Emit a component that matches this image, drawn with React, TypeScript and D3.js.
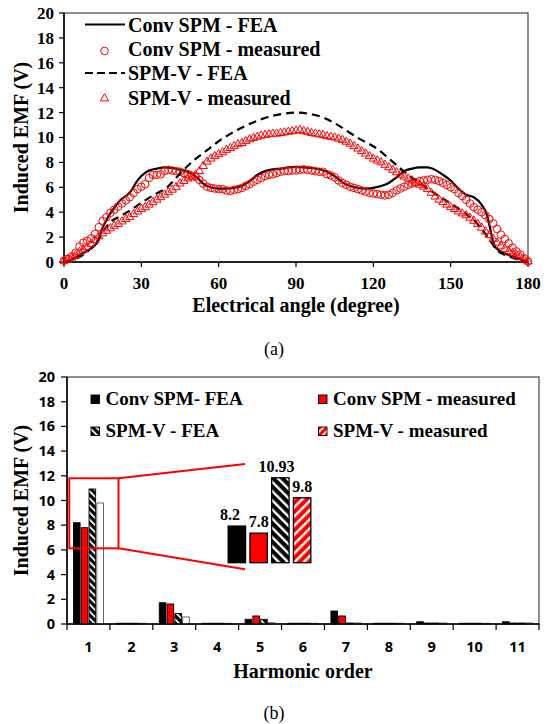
import { useRef, useEffect } from 'react';
import * as d3 from 'd3';

// ---------- (a) back EMF waveforms ----------
const angleTicks = [0, 30, 60, 90, 120, 150, 180];
const emfTicks = [0, 2, 4, 6, 8, 10, 12, 14, 16, 18, 20];

// Conv SPM - FEA (solid line)
const convFeaAngle = [0, 3, 6, 9, 12, 13.5, 14.5, 16, 18, 20, 22, 24, 26, 28, 30, 33, 36, 39, 42, 45, 48, 51, 54, 57, 60, 63, 66, 69, 72, 75, 78, 81, 84, 87, 90, 93, 96, 99, 102, 105, 108, 111, 114, 117, 120, 123, 126, 129, 132, 135, 138, 141, 144, 147, 150, 153, 156, 159, 162, 164, 165, 166, 167, 169, 172, 175, 178, 180];
const convFeaEmf = [0, 0.2, 0.55, 0.9, 1.35, 1.8, 2.5, 3.2, 3.9, 4.5, 5.0, 5.3, 5.7, 6.4, 6.9, 7.35, 7.5, 7.6, 7.55, 7.4, 7.25, 6.9, 6.3, 6.0, 5.9, 5.9, 5.95, 6.1, 6.5, 7.0, 7.3, 7.45, 7.5, 7.6, 7.65, 7.6, 7.55, 7.45, 7.25, 6.9, 6.4, 6.1, 5.95, 5.9, 5.95, 6.1, 6.35, 6.8, 7.3, 7.5, 7.6, 7.6, 7.4, 7.0, 6.55, 5.9, 5.4, 5.2, 4.6, 3.8, 3.0, 2.0, 1.3, 0.9, 0.6, 0.4, 0.15, 0];

// SPM-V - FEA (dashed line)
const spmvFeaAngle = [0, 5, 10, 13, 15, 18, 22, 26, 30, 35, 40, 45, 50, 55, 60, 65, 70, 75, 80, 85, 90, 95, 100, 105, 110, 115, 120, 125, 130, 135, 140, 145, 150, 155, 160, 163, 166, 168, 172, 176, 180];
const spmvFeaEmf = [0, 0.3, 1.0, 1.7, 2.4, 3.2, 3.7, 4.2, 4.75, 5.4, 6.0, 7.1, 8.1, 8.9, 9.7, 10.35, 10.9, 11.35, 11.7, 11.9, 12.0, 11.9, 11.65, 11.15, 10.5, 9.85, 9.3, 8.5, 7.6, 6.75, 6.05, 5.35, 4.7, 4.0, 3.15, 2.4, 1.5, 0.95, 0.5, 0.2, 0];

// measured points (both machines share the angle grid)
const measAngle = [0, 1.5, 3, 4.5, 6, 7.5, 9, 10.5, 12, 13.5, 15, 16.5, 18, 19.5, 21, 22.5, 24, 25.5, 27, 28.5, 30, 31.5, 33, 34.5, 36, 37.5, 39, 40.5, 42, 43.5, 45, 46.5, 48, 49.5, 51, 52.5, 54, 55.5, 57, 58.5, 60, 61.5, 63, 64.5, 66, 67.5, 69, 70.5, 72, 73.5, 75, 76.5, 78, 79.5, 81, 82.5, 84, 85.5, 87, 88.5, 90, 91.5, 93, 94.5, 96, 97.5, 99, 100.5, 102, 103.5, 105, 106.5, 108, 109.5, 111, 112.5, 114, 115.5, 117, 118.5, 120, 121.5, 123, 124.5, 126, 127.5, 129, 130.5, 132, 133.5, 135, 136.5, 138, 139.5, 141, 142.5, 144, 145.5, 147, 148.5, 150, 151.5, 153, 154.5, 156, 157.5, 159, 160.5, 162, 163.5, 165, 166.5, 168, 169.5, 171, 172.5, 174, 175.5, 177, 178.5, 180];
const convMeasEmf = [
  0.10, 0.25, 0.45, 0.75, 1.25, 1.55, 1.70, 1.90, 2.25, 2.80,
  3.30, 3.60, 3.95, 4.20, 4.45, 4.70, 4.95, 5.20, 5.55, 5.85,
  6.05, 6.25, 6.75, 7.00, 7.00, 7.05, 7.30, 7.40, 7.35, 7.30,
  7.25, 7.15, 7.05, 6.95, 6.85, 6.60, 6.30, 6.05, 5.95, 5.90,
  5.85, 5.85, 5.75, 5.70, 5.80, 5.85, 5.95, 6.10, 6.25, 6.45,
  6.60, 6.75, 6.90, 7.00, 7.05, 7.15, 7.25, 7.30, 7.30, 7.35,
  7.35, 7.40, 7.45, 7.40, 7.35, 7.30, 7.25, 7.25, 7.05, 6.95,
  6.80, 6.55, 6.35, 6.20, 6.05, 5.95, 5.85, 5.75, 5.65, 5.55,
  5.50, 5.45, 5.40, 5.35, 5.40, 5.55, 5.75, 5.90, 6.05, 6.20,
  6.30, 6.40, 6.50, 6.55, 6.60, 6.65, 6.60, 6.50, 6.35, 6.20,
  6.00, 5.85, 5.55, 5.30, 5.00, 4.70, 4.40, 4.20, 4.00, 3.75,
  3.45, 3.10, 2.65, 2.20, 1.85, 1.50, 1.15, 0.85, 0.60, 0.30,
  0.05,
];
const spmvMeasEmf = [
  0.10, 0.20, 0.35, 0.55, 0.80, 1.00, 1.20, 1.45, 1.75, 2.05,
  2.30, 2.50, 2.70, 2.90, 3.05, 3.25, 3.45, 3.60, 3.85, 4.05,
  4.25, 4.40, 4.60, 4.80, 5.00, 5.20, 5.40, 5.60, 5.80, 6.00,
  6.30, 6.50, 6.70, 6.80, 7.00, 7.30, 7.70, 8.05, 8.30, 8.50,
  8.65, 8.80, 9.00, 9.15, 9.30, 9.45, 9.55, 9.70, 9.85, 9.95,
  10.05, 10.15, 10.20, 10.25, 10.30, 10.30, 10.35, 10.40, 10.45, 10.50,
  10.55, 10.60, 10.50, 10.45, 10.35, 10.30, 10.25, 10.20, 10.10, 10.05,
  10.00, 9.90, 9.80, 9.65, 9.50, 9.30, 9.10, 8.90, 8.70, 8.50,
  8.30, 8.15, 8.00, 7.80, 7.60, 7.40, 7.20, 7.00, 6.85, 6.70,
  6.55, 6.35, 6.20, 6.05, 5.85, 5.55, 5.25, 5.00, 4.80, 4.60,
  4.40, 4.25, 4.05, 3.90, 3.75, 3.55, 3.30, 3.05, 2.75, 2.45,
  2.15, 1.85, 1.55, 1.30, 1.05, 0.85, 0.70, 0.55, 0.40, 0.20,
  0.05,
];
const waveLegend = ['Conv SPM - FEA', 'Conv SPM - measured', 'SPM-V - FEA', 'SPM-V - measured'];

// ---------- (b) harmonic spectrum ----------
const harmonics = ['1', '2', '3', '4', '5', '6', '7', '8', '9', '10', '11'];
const barLegend = ['Conv SPM- FEA', 'Conv SPM - measured', 'SPM-V - FEA', 'SPM-V - measured'];
const hConvFea = [8.2, 0.06, 1.72, 0.06, 0.38, 0.06, 1.05, 0.06, 0.18, 0.06, 0.18];
const hConvMeas = [7.8, 0.06, 1.62, 0.06, 0.65, 0.06, 0.65, 0.06, 0.08, 0.06, 0.08];
const hSpmvFea = [10.93, 0.06, 0.85, 0.06, 0.38, 0.06, 0.08, 0.06, 0.08, 0.06, 0.08];
const hSpmvMeas = [9.8, 0.06, 0.57, 0.06, 0.1, 0.06, 0.08, 0.06, 0.08, 0.06, 0.08];
const fundamental = [8.2, 7.8, 10.93, 9.8];
const zoomRange = [6.13, 11.8];

const W = 549;
const H = 724;

const App = () => {
  const svgRef = useRef<SVGSVGElement>(null);

  useEffect(() => {
    if (!svgRef.current) return;
    const svg = d3.select(svgRef.current);
    svg.selectAll('*').remove();

    const serif = '"Liberation Serif", "Times New Roman", serif';
    const sans = '"Open Sans", Arial, sans-serif';

    svg.append('rect').attr('width', W).attr('height', H).attr('fill', '#fff');

    const defs = svg.append('defs');
    const hatch = (id: string, bg: string, size: number, stripe: number, angle: number) => {
      const p = defs.append('pattern')
        .attr('id', id)
        .attr('patternUnits', 'userSpaceOnUse')
        .attr('width', size)
        .attr('height', size)
        .attr('patternTransform', `rotate(${angle})`);
      p.append('rect').attr('width', size).attr('height', size).attr('fill', bg);
      p.append('rect').attr('width', stripe).attr('height', size).attr('fill', '#fff');
    };
    hatch('hatchBlack', '#000', 5, 1.8, -45);
    hatch('hatchRed', '#f00', 5, 1.8, 45);
    hatch('hatchBlackBig', '#000', 6.5, 2.4, -45);
    hatch('hatchRedBig', '#f00', 6.5, 2.4, 45);

    // ======================= (a) =======================
    const a = { left: 64, right: 528, top: 13, bottom: 262 };
    const xA = d3.scaleLinear().domain([0, 180]).range([a.left, a.right]);
    const yA = d3.scaleLinear().domain([0, 20]).range([a.bottom, a.top]);
    const gA = svg.append('g');

    gA.append('rect')
      .attr('x', a.left).attr('y', a.top)
      .attr('width', a.right - a.left).attr('height', a.bottom - a.top)
      .attr('fill', 'none').attr('stroke', '#444').attr('stroke-width', 1.2);
    gA.append('line').attr('x1', a.left).attr('x2', a.left).attr('y1', a.top).attr('y2', a.bottom)
      .attr('stroke', '#000').attr('stroke-width', 1.5);
    gA.append('line').attr('x1', a.left).attr('x2', a.right).attr('y1', a.bottom).attr('y2', a.bottom)
      .attr('stroke', '#000').attr('stroke-width', 1.5);

    gA.selectAll('.ytick').data(emfTicks).join('line')
      .attr('x1', a.left - 5).attr('x2', a.left)
      .attr('y1', d => yA(d)).attr('y2', d => yA(d))
      .attr('stroke', '#000').attr('stroke-width', 1.2);
    gA.selectAll('.ylab').data(emfTicks).join('text')
      .attr('x', a.left - 10).attr('y', d => yA(d)).attr('dy', '0.35em')
      .attr('text-anchor', 'end')
      .style('font', `bold 17px ${serif}`)
      .text(d => d);
    gA.selectAll('.xtick').data(angleTicks).join('line')
      .attr('x1', d => xA(d)).attr('x2', d => xA(d))
      .attr('y1', a.bottom).attr('y2', a.bottom + 5)
      .attr('stroke', '#000').attr('stroke-width', 1.2);
    gA.selectAll('.xlab').data(angleTicks).join('text')
      .attr('x', d => xA(d)).attr('y', a.bottom + 21).attr('dy', '0.35em')
      .attr('text-anchor', 'middle')
      .style('font', `bold 17px ${serif}`)
      .text(d => d);

    gA.append('text')
      .attr('x', (a.left + a.right) / 2).attr('y', 312)
      .attr('text-anchor', 'middle')
      .style('font', `bold 20px ${serif}`)
      .text('Electrical angle (degree)');
    gA.append('text')
      .attr('transform', `translate(21,${(a.top + a.bottom) / 2}) rotate(-90)`)
      .attr('dy', '0.35em')
      .attr('text-anchor', 'middle')
      .style('font', `bold 20px ${serif}`)
      .text('Induced EMF (V)');

    const line = d3.line<[number, number]>()
      .x(d => xA(d[0])).y(d => yA(d[1]))
      .curve(d3.curveMonotoneX);

    const convFea = convFeaAngle.map((t, i) => [t, convFeaEmf[i]] as [number, number]);
    const spmvFea = spmvFeaAngle.map((t, i) => [t, spmvFeaEmf[i]] as [number, number]);
    const convMeas = measAngle.map((t, i) => [t, convMeasEmf[i]] as [number, number]);
    const spmvMeas = measAngle.map((t, i) => [t, spmvMeasEmf[i]] as [number, number]);

    gA.append('path').attr('d', line(convFea))
      .attr('fill', 'none').attr('stroke', '#000').attr('stroke-width', 2.2);

    gA.selectAll('.cm').data(convMeas).join('circle')
      .attr('cx', d => xA(d[0])).attr('cy', d => yA(d[1])).attr('r', 3.8)
      .attr('fill', 'none').attr('stroke', '#f00').attr('stroke-width', 1);

    gA.append('path').attr('d', line(spmvFea))
      .attr('fill', 'none').attr('stroke', '#000').attr('stroke-width', 2.2)
      .attr('stroke-dasharray', '8,5');

    const tri = d3.symbol().type(d3.symbolTriangle).size(30);
    gA.selectAll('.sm').data(spmvMeas).join('path')
      .attr('d', tri)
      .attr('transform', d => `translate(${xA(d[0])},${yA(d[1])})`)
      .attr('fill', 'none').attr('stroke', '#f00').attr('stroke-width', 1);

    // legend (a)
    const legA = gA.append('g');
    const legRows = [24.5, 49, 73, 97.5];
    waveLegend.forEach((name, i) => {
      const y = legRows[i];
      if (i === 0 || i === 2) {
        legA.append('line').attr('x1', 85).attr('x2', 125).attr('y1', y).attr('y2', y)
          .attr('stroke', '#000').attr('stroke-width', 2.2)
          .attr('stroke-dasharray', i === 2 ? '8,4' : null);
      } else if (i === 1) {
        legA.append('circle').attr('cx', 104.5).attr('cy', y + 2).attr('r', 3.8)
          .attr('fill', 'none').attr('stroke', '#f00').attr('stroke-width', 1);
      } else {
        legA.append('path').attr('d', tri).attr('transform', `translate(104.5,${y + 1})`)
          .attr('fill', 'none').attr('stroke', '#f00').attr('stroke-width', 1);
      }
      legA.append('text').attr('x', 128).attr('y', y + 7)
        .style('font', `bold 20px ${serif}`).text(name);
    });

    svg.append('text').attr('x', 274).attr('y', 355).attr('text-anchor', 'middle')
      .style('font', `18px ${serif}`).text('(a)');

    // ======================= (b) =======================
    const b = { left: 67, right: 539, top: 377, bottom: 624 };
    const xB = d3.scaleBand().domain(harmonics).range([b.left, b.right]);
    const yB = d3.scaleLinear().domain([0, 20]).range([b.bottom, b.top]);
    const series = [hConvFea, hConvMeas, hSpmvFea, hSpmvMeas];
    const inner = d3.scaleBand<number>().domain([0, 1, 2, 3])
      .range([0, xB.bandwidth()]).paddingInner(0.15).paddingOuter(0.83);
    const fills = ['#000', '#f00', 'url(#hatchBlack)', '#fff'];
    const strokes = ['#000', '#000', '#000', '#555'];
    const gB = svg.append('g');

    gB.append('rect')
      .attr('x', b.left).attr('y', b.top)
      .attr('width', b.right - b.left).attr('height', b.bottom - b.top)
      .attr('fill', 'none').attr('stroke', '#444').attr('stroke-width', 1.2);

    series.forEach((vals, si) => {
      gB.selectAll(`.bar${si}`).data(vals).join('rect')
        .attr('x', (_, i) => (xB(harmonics[i]) ?? 0) + (inner(si) ?? 0))
        .attr('y', d => yB(d))
        .attr('width', inner.bandwidth())
        .attr('height', d => yB(0) - yB(d))
        .attr('fill', fills[si])
        .attr('stroke', strokes[si]).attr('stroke-width', 0.9);
    });

    gB.append('line').attr('x1', b.left).attr('x2', b.left).attr('y1', b.top).attr('y2', b.bottom)
      .attr('stroke', '#000').attr('stroke-width', 1.5);
    gB.append('line').attr('x1', b.left).attr('x2', b.right).attr('y1', b.bottom).attr('y2', b.bottom)
      .attr('stroke', '#000').attr('stroke-width', 1.5);

    gB.selectAll('.ytick').data(emfTicks).join('line')
      .attr('x1', b.left - 6).attr('x2', b.left)
      .attr('y1', d => yB(d)).attr('y2', d => yB(d))
      .attr('stroke', '#000').attr('stroke-width', 1.2);
    gB.selectAll('.ylab').data(emfTicks).join('text')
      .attr('x', b.left - 12).attr('y', d => yB(d)).attr('dy', '0.35em')
      .attr('text-anchor', 'end')
      .style('font', `bold 14.5px ${sans}`)
      .text(d => d);
    const bounds = [...harmonics.map(h => xB(h) ?? 0), b.right];
    gB.selectAll('.xtick').data(bounds).join('line')
      .attr('x1', d => d).attr('x2', d => d)
      .attr('y1', b.bottom).attr('y2', b.bottom + 6)
      .attr('stroke', '#000').attr('stroke-width', 1.2);
    gB.selectAll('.xlab').data(harmonics).join('text')
      .attr('x', d => (xB(d) ?? 0) + xB.bandwidth() / 2).attr('y', b.bottom + 23).attr('dy', '0.35em')
      .attr('text-anchor', 'middle')
      .style('font', `bold 14.5px ${sans}`)
      .text(d => d);

    gB.append('text')
      .attr('x', (b.left + b.right) / 2).attr('y', 678)
      .attr('text-anchor', 'middle')
      .style('font', `bold 20px ${serif}`)
      .text('Harmonic order');
    gB.append('text')
      .attr('transform', `translate(21,${(b.top + b.bottom) / 2}) rotate(-90)`)
      .attr('dy', '0.35em')
      .attr('text-anchor', 'middle')
      .style('font', `bold 20px ${serif}`)
      .text('Induced EMF (V)');

    // legend (b)
    const legFills = ['#000', '#f00', 'url(#hatchBlack)', 'url(#hatchRed)'];
    const legCols = [91, 318.5];
    const legRowsB = [395, 427];
    barLegend.forEach((name, i) => {
      const x = legCols[i % 2];
      const y = legRowsB[Math.floor(i / 2)];
      gB.append('rect').attr('x', x).attr('y', y).attr('width', 8.5).attr('height', 8.5)
        .attr('fill', legFills[i]).attr('stroke', '#000').attr('stroke-width', 0.9);
      gB.append('text').attr('x', x + 14.5).attr('y', y + 10)
        .style('font', `bold 19px ${serif}`).text(name);
    });

    // zoom box on the fundamental
    const x1 = xB('1') ?? 0;
    const boxL = x1 + 2.3;
    const boxR = x1 + xB.bandwidth() * 1.2;
    const boxT = yB(zoomRange[1]);
    const boxB = yB(zoomRange[0]);
    gB.append('rect').attr('x', boxL).attr('y', boxT)
      .attr('width', boxR - boxL).attr('height', boxB - boxT)
      .attr('fill', 'none').attr('stroke', '#f00').attr('stroke-width', 2);

    const xi = d3.scaleBand<number>().domain([0, 1, 2, 3]).range([226, 313])
      .paddingInner(0.2).paddingOuter(0.1);
    const yi = d3.scaleLinear().domain(zoomRange).range([562.7, 462.4]);

    gB.append('line').attr('x1', boxR).attr('y1', boxT).attr('x2', 245).attr('y2', yi(zoomRange[1]) + 1.5)
      .attr('stroke', '#f00').attr('stroke-width', 2);
    gB.append('line').attr('x1', boxR).attr('y1', boxB).attr('x2', 245).attr('y2', yi(zoomRange[0]) + 6.5)
      .attr('stroke', '#f00').attr('stroke-width', 2);

    const insetFills = ['#000', '#f00', 'url(#hatchBlackBig)', 'url(#hatchRedBig)'];
    gB.selectAll('.inset').data(fundamental).join('rect')
      .attr('x', (_, i) => xi(i) ?? 0)
      .attr('y', d => yi(d))
      .attr('width', xi.bandwidth())
      .attr('height', d => yi(zoomRange[0]) - yi(d))
      .attr('fill', (_, i) => insetFills[i])
      .attr('stroke', '#000').attr('stroke-width', 1.3);
    gB.selectAll('.insetLab').data(fundamental).join('text')
      .attr('x', (_, i) => (xi(i) ?? 0) + xi.bandwidth() / 2 - (i === 0 ? 7 : i === 2 ? 4 : 0))
      .attr('y', d => yi(d) - 6)
      .attr('text-anchor', 'middle')
      .style('font', `bold 16px ${serif}`)
      .text(d => String(d));

    svg.append('text').attr('x', 274).attr('y', 719).attr('text-anchor', 'middle')
      .style('font', `18px ${serif}`).text('(b)');
  }, []);

  return (
    <svg ref={svgRef} width={W} height={H}
      style={{ position: 'absolute', left: 0, top: 0, display: 'block' }} />
  );
};

export default App;
